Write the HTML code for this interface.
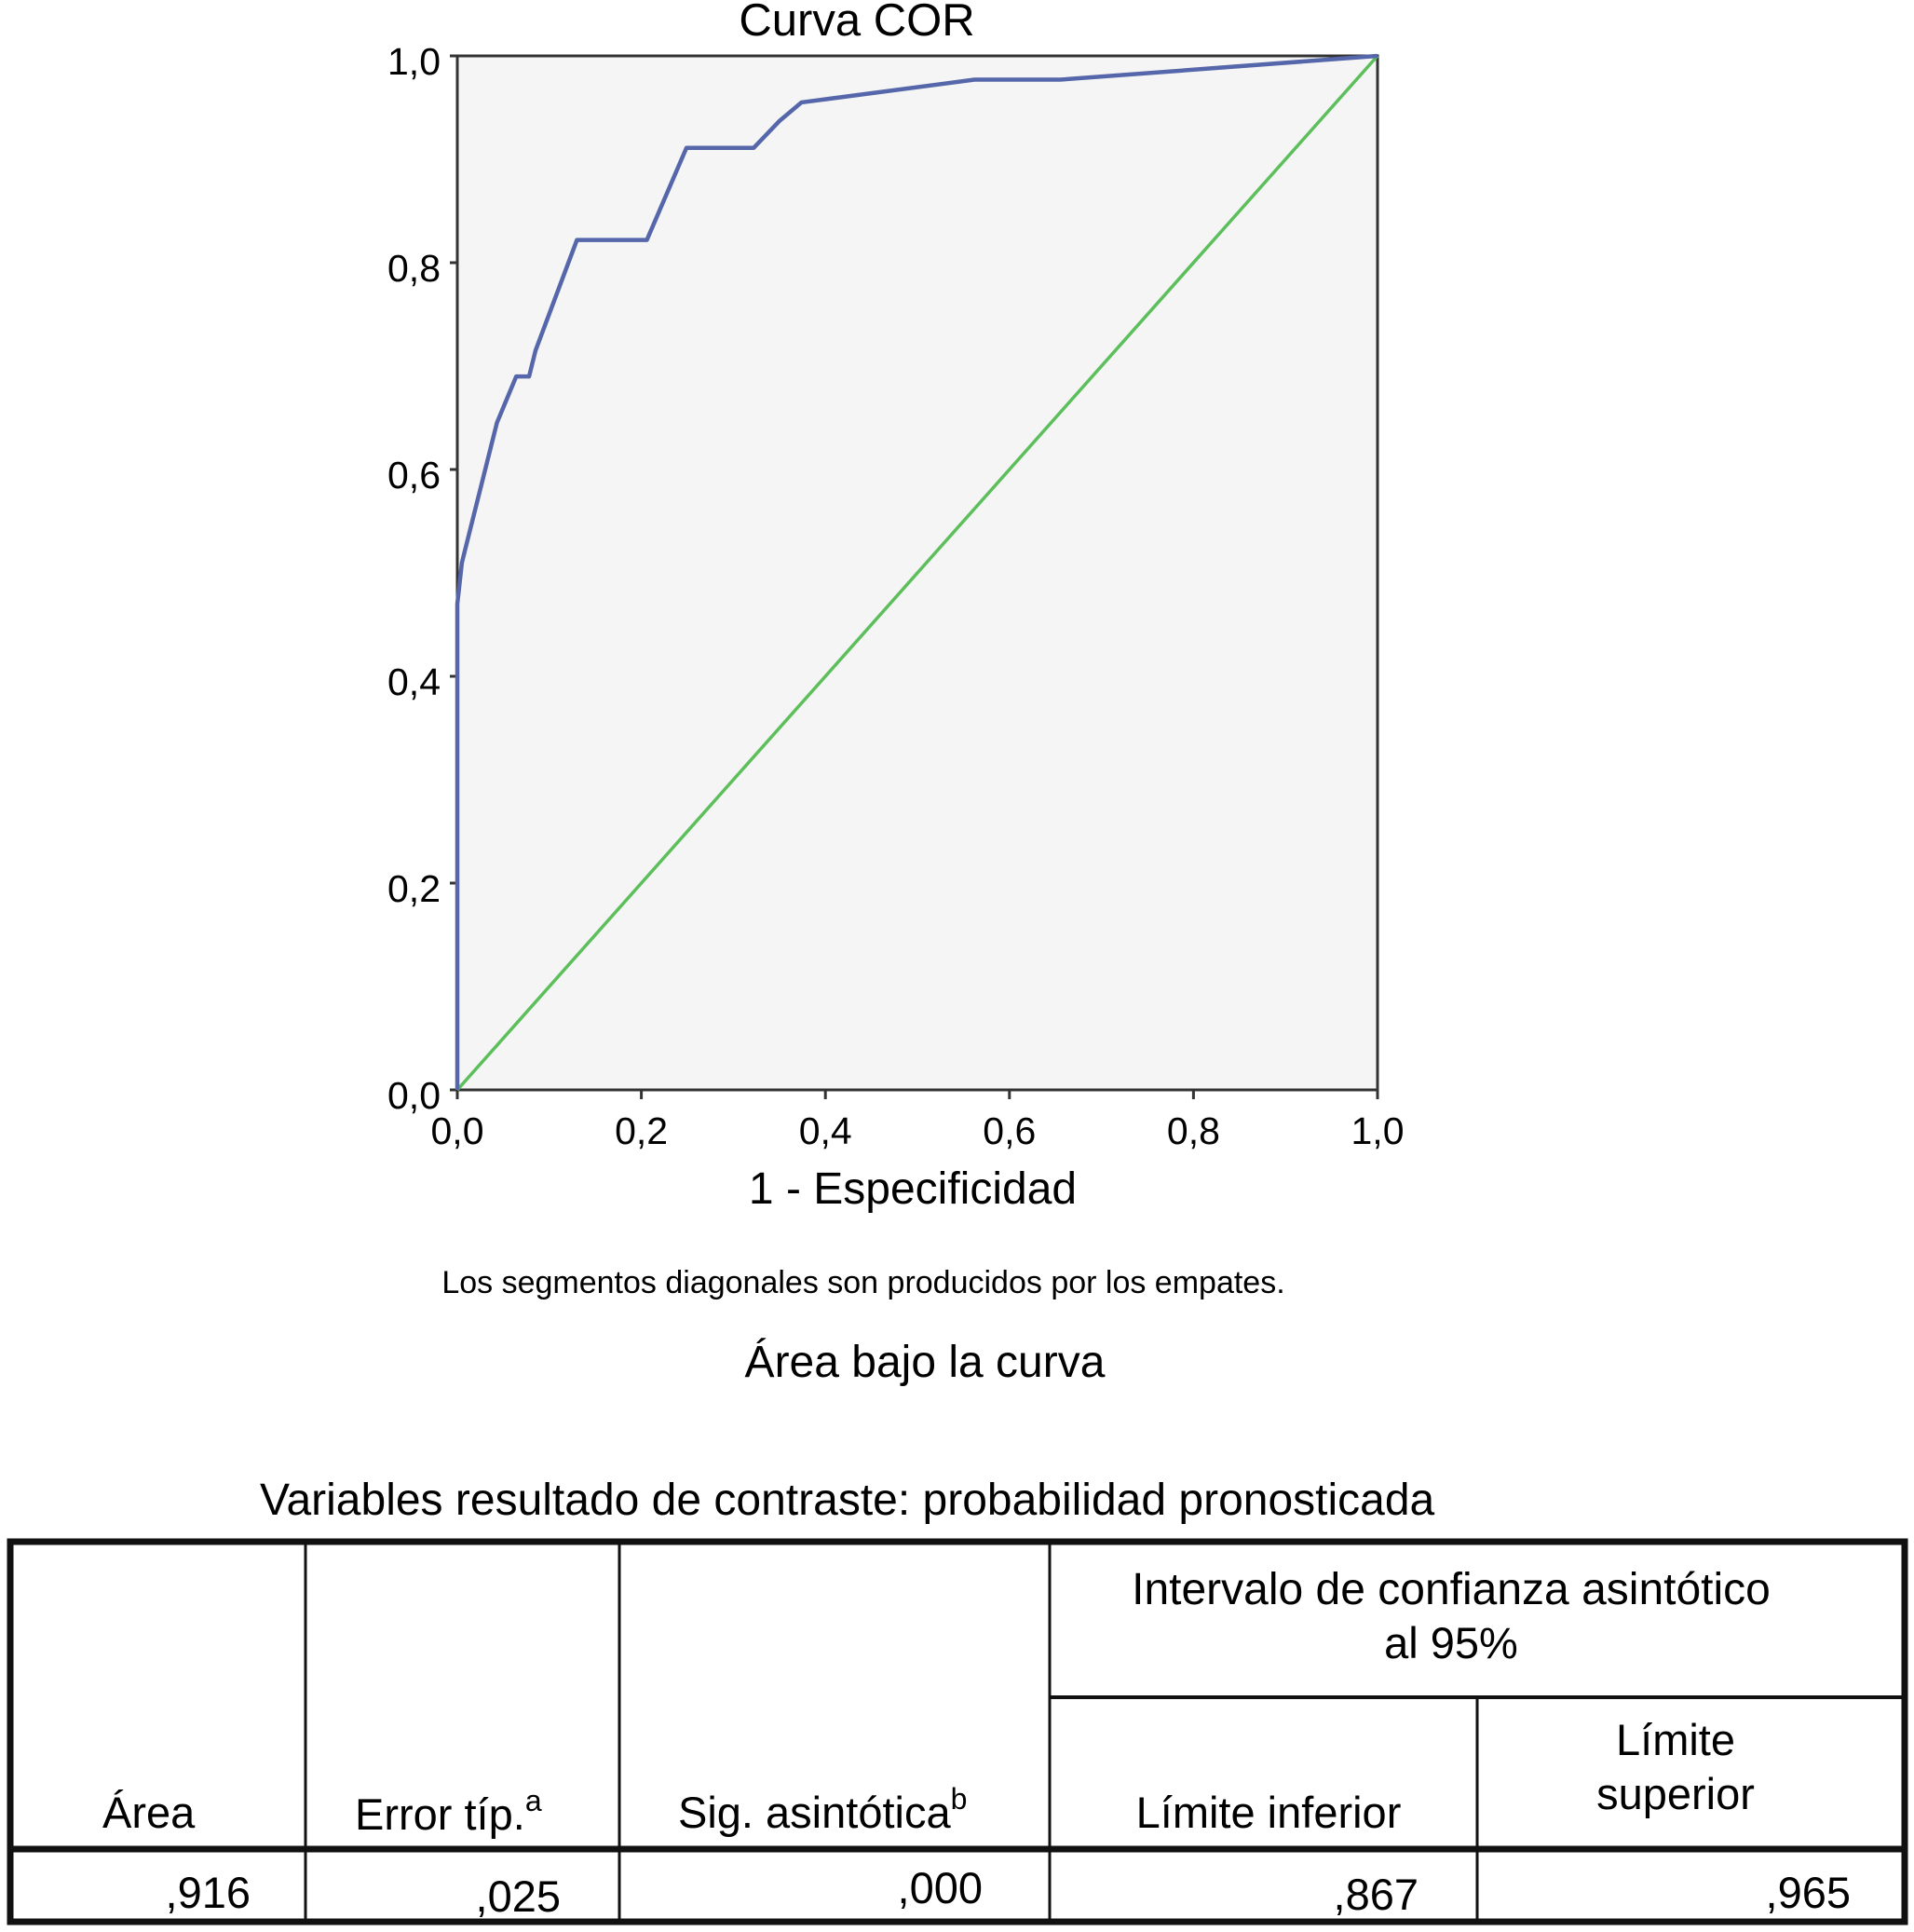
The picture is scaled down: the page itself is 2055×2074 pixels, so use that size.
<!DOCTYPE html>
<html><head><meta charset="utf-8"><style>
body{margin:0;background:#fff;}
svg{display:block;font-family:"Liberation Sans",sans-serif;}
</style></head><body>
<svg width="2055" height="2074" viewBox="0 0 2055 2074">
<text x="920" y="38" font-size="49" text-anchor="middle">Curva COR</text>
<rect x="491" y="60" width="988" height="1110" fill="#f5f5f5" stroke="#333" stroke-width="3"/>
<g id="axes"></g>
<line id="diag" stroke="#5cbf5c" stroke-width="3.5"/>
<path id="roc" fill="none" stroke="#5566aa" stroke-width="4.5" stroke-linejoin="round"/>
<text x="980" y="1292" font-size="48" text-anchor="middle">1 - Especificidad</text>
<text x="927" y="1388" font-size="34" text-anchor="middle">Los segmentos diagonales son producidos por los empates.</text>
<text x="993" y="1478" font-size="48" text-anchor="middle">Área bajo la curva</text>
<text x="279" y="1626" font-size="48">Variables resultado de contraste: probabilidad pronosticada</text>
<g stroke="#111" fill="none">
<rect x="11" y="1655" width="2034" height="408" stroke-width="7"/>
<line x1="11" y1="1985" x2="2045" y2="1985" stroke-width="7"/>
<line x1="1127" y1="1822" x2="2045" y2="1822" stroke-width="4"/>
<line x1="328" y1="1655" x2="328" y2="2063" stroke-width="3"/>
<line x1="665" y1="1655" x2="665" y2="2063" stroke-width="3"/>
<line x1="1127" y1="1655" x2="1127" y2="2063" stroke-width="3"/>
<line x1="1586" y1="1822" x2="1586" y2="2063" stroke-width="3"/>
</g>
<g font-size="47" fill="#000">
<text x="110" y="1962">Área</text>
<text x="381" y="1964">Error típ.<tspan font-size="32" dy="-20">a</tspan></text>
<text x="728" y="1962">Sig. asintótica<tspan font-size="32" dy="-20">b</tspan></text>
<text x="1558" y="1722" text-anchor="middle" font-size="48">Intervalo de confianza asintótico</text>
<text x="1558" y="1780" text-anchor="middle">al 95%</text>
<text x="1362" y="1962" text-anchor="middle">Límite inferior</text>
<text x="1799" y="1884" text-anchor="middle">Límite</text>
<text x="1799" y="1942" text-anchor="middle">superior</text>
<text x="269" y="2048" text-anchor="end">,916</text>
<text x="602" y="2052" text-anchor="end">,025</text>
<text x="1055" y="2043" text-anchor="end">,000</text>
<text x="1523" y="2050" text-anchor="end">,867</text>
<text x="1987" y="2048" text-anchor="end">,965</text>
</g>
</svg>
<script>
const fprValues=[0,0,0.005,0.043,0.064,0.078,0.085,0.13,0.206,0.249,0.322,0.35,0.374,0.562,0.655,1];
const tprValues=[0,0.47,0.51,0.645,0.69,0.69,0.715,0.822,0.822,0.911,0.911,0.937,0.955,0.977,0.977,1];
const tickValues=[0,0.2,0.4,0.6,0.8,1.0];
const tickLabels=["0,0","0,2","0,4","0,6","0,8","1,0"];
const X0=491,X1=1479,Y0=1170,Y1=60;
const sx=v=>X0+v*(X1-X0), sy=v=>Y0-v*(Y0-Y1);
const NS="http://www.w3.org/2000/svg";
const axes=document.getElementById('axes');
tickValues.forEach((v,i)=>{
  let l=document.createElementNS(NS,'line');
  l.setAttribute('x1',X0-8);l.setAttribute('x2',X0);l.setAttribute('y1',sy(v));l.setAttribute('y2',sy(v));
  l.setAttribute('stroke','#333');l.setAttribute('stroke-width','3');
  
  
  axes.appendChild(l);
  let t=document.createElementNS(NS,'text');
  t.setAttribute('x',X0-18);t.setAttribute('y',sy(v)+20);t.setAttribute('font-size','41');t.setAttribute('text-anchor','end');
  t.textContent=tickLabels[i];
  
  
  axes.appendChild(t);
  let l2=document.createElementNS(NS,'line');
  l2.setAttribute('x1',sx(v));l2.setAttribute('x2',sx(v));l2.setAttribute('y1',Y0);l2.setAttribute('y2',Y0+10);
  l2.setAttribute('stroke','#333');l2.setAttribute('stroke-width','3');
  
  
  axes.appendChild(l2);
  let t2=document.createElementNS(NS,'text');
  t2.setAttribute('x',sx(v));t2.setAttribute('y',Y0+58);t2.setAttribute('font-size','41');t2.setAttribute('text-anchor','middle');
  t2.textContent=tickLabels[i];
  
  
  axes.appendChild(t2);
});
const d=document.getElementById('diag');
d.setAttribute('x1',sx(0));d.setAttribute('y1',sy(0));d.setAttribute('x2',sx(1));d.setAttribute('y2',sy(1));
document.getElementById('roc').setAttribute('d',fprValues.map((x,i)=>(i?'L':'M')+sx(x)+' '+sy(tprValues[i])).join(' '));
</script>
</body></html>
